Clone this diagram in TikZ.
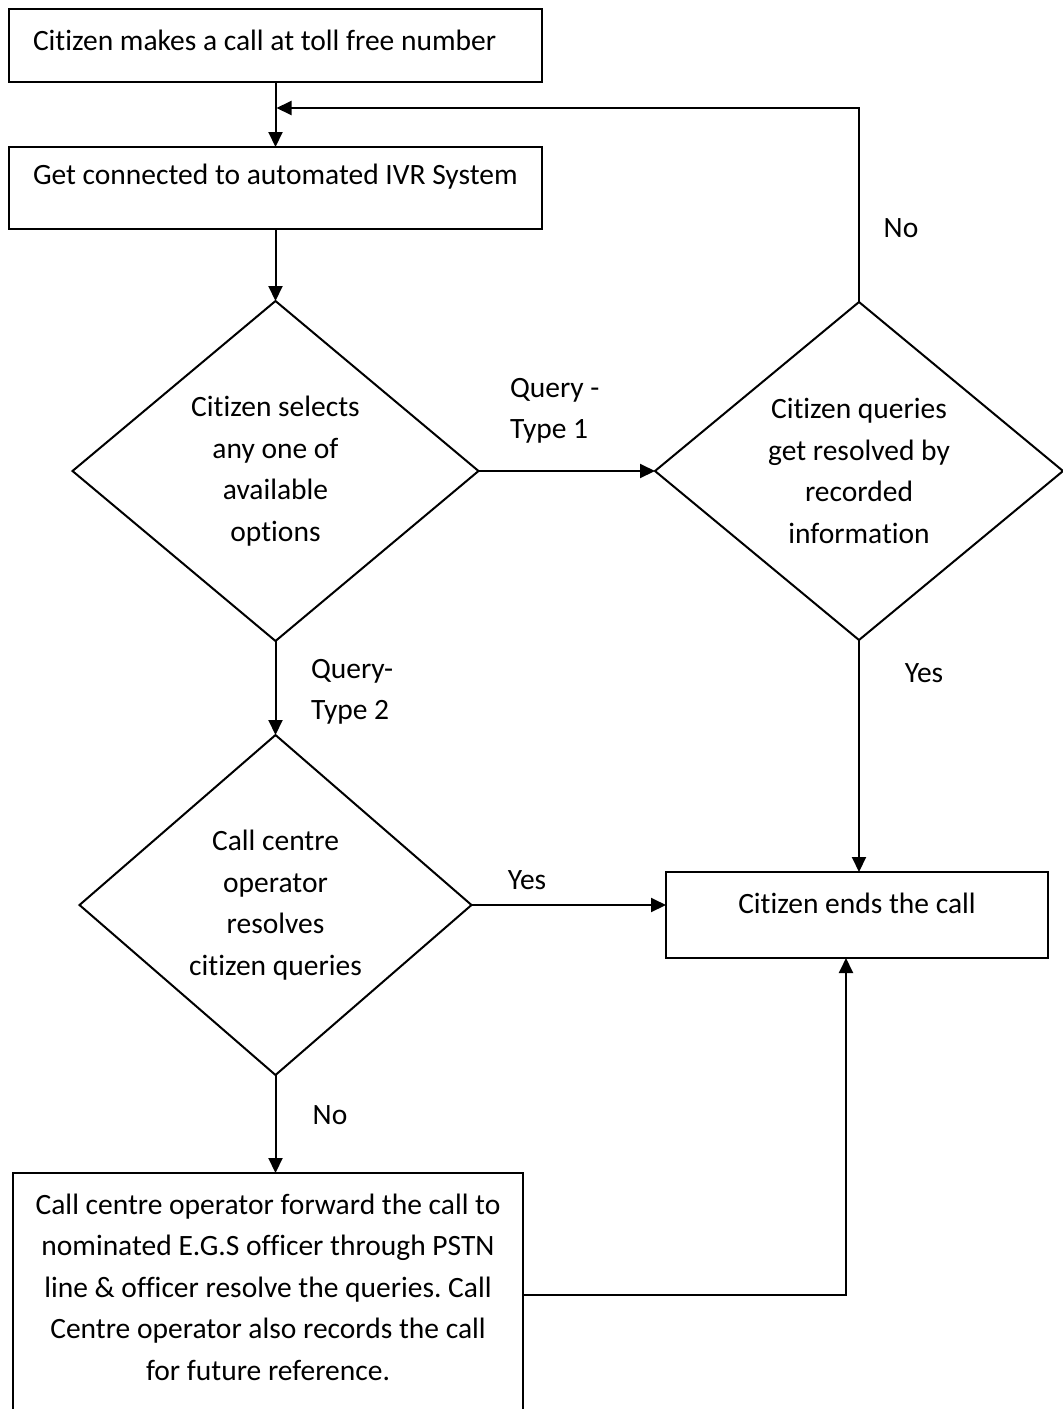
\documentclass[tikz,border=0pt]{standalone}
\usepackage{fontspec}
\setmainfont{Carlito}[RawFeature={-liga}]
\usetikzlibrary{shapes.geometric,arrows.meta,calc}
\begin{document}
\begin{tikzpicture}[x=1pt,y=-1pt,
  line width=2pt,
  every node/.style={inner sep=0pt, outer sep=0pt},
  txt/.style={font=\fontsize{29.5}{41.5}\selectfont},
  box/.style={draw, rectangle, line width=2.2pt},
  dia/.style={draw, diamond, line width=2pt, align=center, txt},
  arr/.style={-{Triangle[length=15pt,width=14pt]}, line width=2pt},
  lbl/.style={txt, align=left}]
\useasboundingbox (0,0) rectangle (1063,1409);
% boxes
\node[box, minimum width=533, minimum height=73] (b1) at (275.5,45.5) {};
\node[txt, anchor=west] (t1) at (33,40) {Citizen makes a call at toll free number};
\node[box, minimum width=533, minimum height=82] (b2) at (275.5,188) {};
\node[txt, anchor=west] (t2) at (33,177) {Get connected to automated IVR System};
% diamonds
\node[dia, minimum width=406, minimum height=340] (d1) at (275.5,471) {Citizen selects\\any one of\\available\\options};
\node[dia, minimum width=408, minimum height=338] (d2) at (859,471) {Citizen queries\\get resolved by\\recorded\\information};
\node[dia, minimum width=392, minimum height=340] (d3) at (275.5,905) {Call centre\\operator\\resolves\\citizen queries};
% end boxes
\node[box, minimum width=382, minimum height=86] (b3) at (857,915) {};
\node[txt] (t3) at (857,903) {Citizen ends the call};
\node[box, minimum width=510, minimum height=244] (b4) at (268,1295) {};
\node[txt, align=center] (t4) at (268,1287) {Call centre operator forward the call to\\nominated E.G.S officer through PSTN\\line \& officer resolve the queries.\ Call\\Centre operator also records the call\\for future reference.};
% labels
\node[lbl, anchor=west] (l1) at (510,411) {Query -\\Type 1};
\node[txt] (l2) at (901,228) {No};
\node[txt] (l3) at (924,673) {Yes};
\node[lbl, anchor=west] (l4) at (311,692) {Query-\\Type 2};
\node[txt] (l5) at (527,880) {Yes};
\node[txt] (l6) at (330,1115) {No};
% connectors
\coordinate (fb) at (276.5,108);
\draw[arr] (b1.south) -- (b2.north);
\draw[arr] (d2.north) |- (fb);
\draw[arr] (b2.south) -- (d1.north);
\draw[arr] (d1.east) -- (d2.west);
\draw[arr] (d1.south) -- (d3.north);
\draw[arr] (d2.south) -- (d2.south |- b3.north);
\draw[arr] (d3.east) -- (d3.east -| b3.west);
\draw[arr] (d3.south) -- (d3.south |- b4.north);
\draw[arr] (b4.east) -| ([xshift=-11pt]b3.south);
\end{tikzpicture}
\end{document}
